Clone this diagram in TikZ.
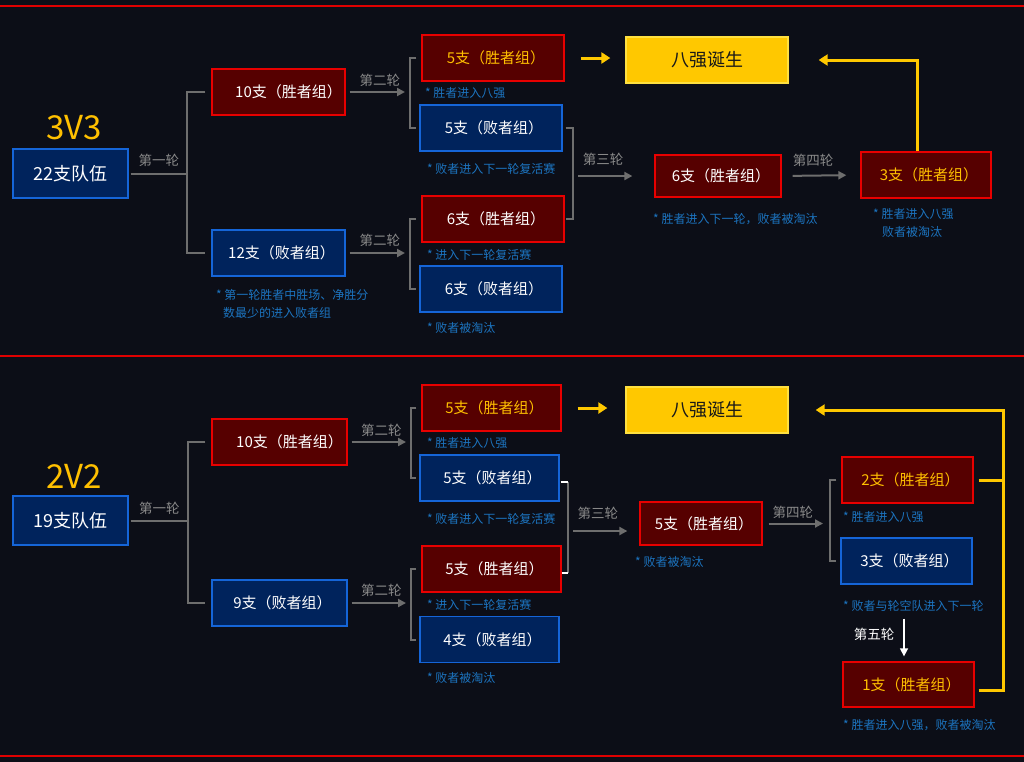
\documentclass[tikz,border=0pt]{standalone}
\usepackage{fontspec}
\setmainfont{Noto Sans CJK SC}
\usetikzlibrary{arrows.meta}
\definecolor{bg}{HTML}{0C0E17}
\definecolor{sepred}{HTML}{E00000}
\definecolor{wfill}{HTML}{560000}
\definecolor{wdraw}{HTML}{E80000}
\definecolor{lfill}{HTML}{00235C}
\definecolor{ldraw}{HTML}{1565D8}
\definecolor{gold}{HTML}{FFC800}
\definecolor{golddraw}{HTML}{FFE040}
\definecolor{goldtxt}{HTML}{FFC000}
\definecolor{notec}{HTML}{1C74C0}
\definecolor{lnc}{HTML}{6E6E6E}
\definecolor{lblc}{HTML}{8A8A8A}
\newcommand{\padA}{\hspace*{6pt}}
\newcommand{\padB}{\hspace*{20pt}}
\begin{document}
\begin{tikzpicture}[x=1pt,y=-1pt,
 box/.style={rectangle, inner sep=0pt, line width=1.3pt, minimum height=46pt, font=\fontsize{15}{15}\selectfont, text=white},
 winbox/.style={box, fill=wfill, draw=wdraw},
 losebox/.style={box, fill=lfill, draw=ldraw},
 goldtext/.style={text=goldtxt},
 topbox/.style={box, fill=gold, draw=golddraw, text=black!90, font=\fontsize{18}{18}\selectfont},
 note/.style={anchor=west, inner sep=0pt, text=notec, font=\fontsize{12}{18}\selectfont, align=left},
 lbl/.style={text=lblc, font=\fontsize{13.5}{14}\selectfont, inner sep=1pt},
 gl/.style={draw=lnc, line width=2pt},
 garrow/.style={gl, -{Triangle[length=8pt,width=8pt]}},
 wl/.style={draw=white, line width=2pt},
 warrow/.style={draw=white, line width=1.5pt, -{Triangle[length=8pt,width=8pt]}},
 yl/.style={draw=gold, line width=3pt},
 yarrow/.style={yl, -{Triangle[length=9pt,width=11pt]}},
 title/.style={text=goldtxt, font=\fontsize{33}{33}\selectfont, inner sep=0pt},
]
\useasboundingbox (0,0) rectangle (1024,761);
\fill[bg] (-3,-3) rectangle (1027,764);
\draw[sepred, line width=2pt] (-3,6) -- (1027,6);
\draw[sepred, line width=2pt] (-3,356) -- (1027,356);
\draw[sepred, line width=2pt] (-3,756) -- (1027,756);

% ---------------- top: 3V3 ----------------
\node[title] (t3v3) at (74,128) {3V3};
\node[losebox, minimum width=115pt, minimum height=49pt, font=\fontsize{18}{18}\selectfont] (t22) at (70.5,173.5) {22支队伍};
\node[winbox, minimum width=133pt] (t10) at (278.5,92) {\padB10支（胜者组）};
\node[losebox, minimum width=133pt] (t12) at (278.5,253) {\padA12支（败者组）};
\node[winbox, goldtext, minimum width=142pt] (tw5) at (493,58) {\padA5支（胜者组）};
\node[losebox, minimum width=142pt] (tl5) at (491,128) {\padA5支（败者组）};
\node[winbox, minimum width=142pt] (tw6) at (493,219) {\padA6支（胜者组）};
\node[losebox, minimum width=142pt] (tl6) at (491,289) {\padA6支（败者组）};
\node[winbox, minimum width=126pt, minimum height=42pt] (tr6) at (718,176) {\padA6支（胜者组）};
\node[winbox, goldtext, minimum width=130pt] (t3) at (926,175) {\padA3支（胜者组）};
\node[topbox, minimum width=162pt] (t8) at (707,60) {八强诞生};

\node[note] (tn1) at (216,304) {* 第一轮胜者中胜场、净胜分\\\hspace*{7pt}数最少的进入败者组};
\node[note] (tn2) at (425,93) {* 胜者进入八强};
\node[note] (tn3) at (427,169) {* 败者进入下一轮复活赛};
\node[note] (tn4) at (427,255) {* 进入下一轮复活赛};
\node[note] (tn5) at (427,328) {* 败者被淘汰};
\node[note] (tn6) at (653,219) {* 胜者进入下一轮，败者被淘汰};
\node[note] (tn7) at (873,222.5) {* 胜者进入八强\\\hspace*{9pt}败者被淘汰};

\coordinate (tb1) at (187,173.5);
\coordinate (tb2) at (410,92);
\coordinate (tb3) at (410,253);
\coordinate (tb4) at (573,176);

\draw[gl] ([xshift=2pt]t22.east) -- (tb1) node[lbl, midway, above=4.5pt] (tl1) {第一轮};
\draw[gl] ([xshift=-6pt]t10.west) -| (tb1) |- ([xshift=-6pt]t12.west);
\draw[garrow, shorten >=5pt] ([xshift=4pt]t10.east) -- (tb2) node[lbl, midway, above=3pt] (tl2) {第二轮};
\draw[gl] ([xshift=-5pt]tw5.west) -| (tb2) |- ([xshift=-3pt]tl5.west);
\draw[garrow, shorten >=5pt] ([xshift=4pt]t12.east) -- (tb3) node[lbl, midway, above=4pt] (tl3) {第二轮};
\draw[gl] ([xshift=-5pt]tw6.west) -| (tb3) |- ([xshift=-3pt]tl6.west);
\draw[gl] ([xshift=3pt]tl5.east) -| (tb4) |- ([xshift=1pt]tw6.east);
\draw[garrow, shorten <=5pt, shorten >=22pt] (tb4) -- (tr6.west) node[lbl, pos=0.37, above=8pt] (tl4) {第三轮};
\draw[garrow, shorten <=11pt, shorten >=14pt] (tr6.east) -- (t3.west) node[lbl, pos=0.4, above=7pt] (tl5b) {第四轮};
\draw[yarrow, shorten <=16pt, shorten >=15pt] (tw5.east) -- (tw5.east -| t8.west);
\draw[yarrow, shorten >=30pt] ([xshift=-9pt]t3.north) |- (t8.east);

% ---------------- bottom: 2V2 ----------------
\node[title] (b2v2) at (74,476) {2V2};
\node[losebox, minimum width=115pt, minimum height=49pt, font=\fontsize{18}{18}\selectfont] (b19) at (70.5,520.5) {19支队伍};
\node[winbox, minimum width=135pt] (b10) at (279.5,442) {\padB10支（胜者组）};
\node[losebox, minimum width=135pt] (b9) at (279.5,603) {\padA9支（败者组）};
\node[winbox, goldtext, minimum width=139pt] (bw5) at (491.5,408) {\padA5支（胜者组）};
\node[losebox, minimum width=139pt] (bl5) at (489.5,478) {\padA5支（败者组）};
\node[winbox, minimum width=139pt] (bw5b) at (491.5,569) {\padA5支（胜者组）};
\node[losebox, minimum width=139pt] (bl4) at (489.5,639.5) {\padA4支（败者组）};
\node[winbox, minimum width=122pt, minimum height=43pt] (br5) at (701,523.5) {\padA5支（胜者组）};
\node[winbox, goldtext, minimum width=131pt] (b2) at (907.5,480) {\padA2支（胜者组）};
\node[losebox, minimum width=131pt] (bl3) at (906.5,561) {\padA3支（败者组）};
\node[winbox, goldtext, minimum width=131pt, minimum height=45pt] (b1) at (908.5,684.5) {\padA1支（胜者组）};
\node[topbox, minimum width=162pt] (b8) at (707,410) {八强诞生};

\node[note] (bn1) at (427,443) {* 胜者进入八强};
\node[note] (bn2) at (427,519) {* 败者进入下一轮复活赛};
\node[note] (bn3) at (427,605) {* 进入下一轮复活赛};
\node[note] (bn4) at (427,678) {* 败者被淘汰};
\node[note] (bn5) at (635,562) {* 败者被淘汰};
\node[note] (bn6) at (843,517) {* 胜者进入八强};
\node[note] (bn7) at (843,606) {* 败者与轮空队进入下一轮};
\node[note] (bn8) at (843,725) {* 胜者进入八强，败者被淘汰};

\coordinate (bb1) at (188,520.5);
\coordinate (bb2) at (411,442);
\coordinate (bb3) at (411,603);
\coordinate (bb4) at (568,531);
\coordinate (bb5) at (830,523.5);
\coordinate (byc) at (1003,410);
\coordinate (bs1) at ([xshift=1pt,yshift=-4pt]bl5.east);
\coordinate (bs2) at ([yshift=-4pt]bw5b.east);

\draw[gl] ([xshift=2pt]b19.east) -- (bb1) node[lbl, midway, above=4pt] (bl1) {第一轮};
\draw[gl] ([xshift=-6pt]b10.west) -| (bb1) |- ([xshift=-6pt]b9.west);
\draw[garrow, shorten >=5pt] ([xshift=4pt]b10.east) -- (bb2) node[lbl, midway, above=3pt] (bl2) {第二轮};
\draw[gl] ([xshift=-5pt]bw5.west) -| (bb2) |- ([xshift=-3pt]bl5.west);
\draw[garrow, shorten >=5pt] ([xshift=4pt]b9.east) -- (bb3) node[lbl, midway, above=4pt] (bl3b) {第二轮};
\draw[gl] ([xshift=-5pt]bw5b.west) -| (bb3) |- ([xshift=-3pt]bl4.west);
\draw[gl] (bs1 -| bb4) -- (bs2 -| bb4);
\draw[wl] (bs1) -- (bs1 -| bb4);
\draw[wl] (bs2) -- (bs2 -| bb4);
\draw[garrow, shorten <=5pt, shorten >=12pt] (bb4) -- (bb4 -| br5.west) node[lbl, pos=0.42, above=9pt] (bl4b) {第三轮};
\draw[garrow, shorten <=6pt, shorten >=7pt] (br5.east) -- (bb5) node[lbl, pos=0.45, above=3pt] (bl5b) {第四轮};
\draw[gl] ([xshift=-5pt]b2.west) -| (bb5) |- ([xshift=-4pt]bl3.west);
\draw[warrow, shorten <=34pt, shorten >=5pt] ([xshift=-2.5pt]bl3.south) -- ([xshift=-4.5pt]b1.north) node[pos=0.65, left=8pt, text=white, font=\fontsize{13.5}{14}\selectfont, inner sep=1pt] (bl6) {第五轮};
\draw[yarrow, shorten <=16pt, shorten >=18pt] (bw5.east) -- (bw5.east -| b8.west);
\draw[yl] ([xshift=5pt]b2.east) -- (b2.east -| byc);
\draw[yarrow, shorten >=27pt] ([xshift=4pt,yshift=-6pt]b1.east) -| (byc) -- (b8.east);
\end{tikzpicture}
\end{document}
